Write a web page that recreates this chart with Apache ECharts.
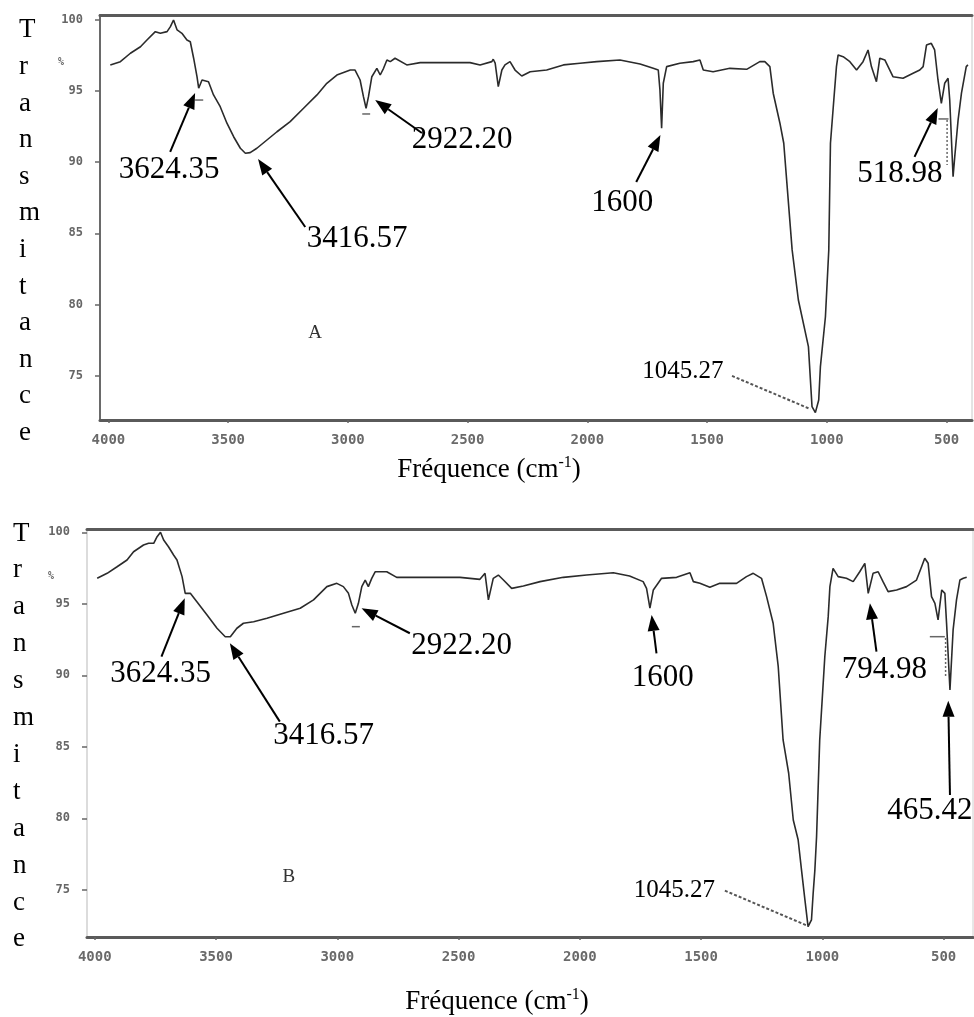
<!DOCTYPE html>
<html>
<head>
<meta charset="utf-8">
<title>Spectres IR A et B</title>
<script src="https://cdn.jsdelivr.net/npm/echarts@6/dist/echarts.min.js"></script>
<style>
  html, body { margin: 0; padding: 0; background: #fff; }
  #main { width: 974px; height: 1017px; }
</style>
</head>
<body>
<div id="main"></div>
<script>
// spectre A : [nombre d'onde cm-1, transmittance %]
const spectrumA = [
  [3992,96.84],[3950,97.07],[3908,97.66],[3866,98.12],[3839,98.59],[3804,99.18],[3783,99.06],[3755,99.18],
  [3741,99.53],[3728,100.0],[3713,99.30],[3693,99.06],[3672,98.59],[3658,98.47],[3644,97.31],[3630,96.01],
  [3623,95.20],[3609,95.78],[3582,95.66],[3561,94.73],[3533,93.90],[3505,92.74],[3477,91.79],[3449,90.98],
  [3428,90.63],[3408,90.67],[3380,90.98],[3338,91.56],[3296,92.14],[3241,92.85],[3185,93.79],[3129,94.73],
  [3088,95.55],[3046,96.13],[2990,96.48],[2970,96.48],[2949,95.78],[2935,94.61],[2924,93.79],[2914,94.61],
  [2900,96.01],[2879,96.60],[2865,96.13],[2851,96.60],[2837,97.19],[2823,97.07],[2803,97.31],[2754,96.84],
  [2698,97.00],[2490,97.00],[2448,96.84],[2399,97.07],[2393,97.24],[2385,96.96],[2372,95.31],[2357,96.48],
  [2344,96.84],[2323,97.07],[2302,96.48],[2274,96.06],[2239,96.36],[2170,96.48],[2100,96.84],[2031,96.96],
  [1961,97.07],[1864,97.19],[1780,96.91],[1725,96.60],[1704,96.48],[1697,95.08],[1690,92.38],[1683,95.55],
  [1669,96.72],[1614,96.96],[1558,97.07],[1530,97.19],[1516,96.48],[1475,96.36],[1405,96.60],[1335,96.53],
  [1280,97.07],[1259,97.07],[1238,96.72],[1224,94.85],[1196,92.74],[1180,91.33],[1145,83.83],[1119,80.31],
  [1077,77.03],[1062,72.81],[1048,72.39],[1034,73.28],[1027,75.62],[1006,79.13],[992,83.83],[985,91.33],
  [971,94.37],[960,96.72],[953,97.54],[932,97.42],[904,97.07],[876,96.48],[849,97.07],[828,97.89],
  [814,96.72],[793,95.66],[779,97.31],[758,97.19],[724,96.01],[682,95.90],[640,96.25],[612,96.48],
  [598,96.72],[584,98.24],[564,98.36],[550,97.89],[536,95.78],[522,94.14],[508,95.55],[494,95.90],
  [487,94.37],[473,88.98],[466,90.39],[452,92.97],[438,94.85],[418,96.72],[411,96.84]
];

// spectre B
const spectrumB = [
  [3990,96.78],[3949,97.13],[3908,97.59],[3867,98.06],[3840,98.64],[3799,99.11],[3778,99.23],[3757,99.23],
  [3743,99.69],[3729,100.0],[3716,99.46],[3696,98.99],[3675,98.41],[3661,98.06],[3640,96.90],[3627,95.73],
  [3606,95.73],[3579,95.15],[3537,94.22],[3496,93.29],[3462,92.70],[3441,92.70],[3414,93.29],[3387,93.64],
  [3345,93.75],[3290,93.99],[3222,94.34],[3153,94.69],[3098,95.27],[3043,96.20],[3002,96.43],[2975,96.20],
  [2954,95.73],[2940,94.92],[2926,94.34],[2913,95.03],[2899,96.20],[2885,96.66],[2872,96.20],[2858,96.78],
  [2844,97.24],[2796,97.24],[2755,96.85],[2604,96.85],[2494,96.85],[2412,96.71],[2391,97.13],[2377,95.27],
  [2357,96.78],[2336,97.01],[2315,96.66],[2281,96.08],[2233,96.24],[2164,96.55],[2068,96.85],[1972,97.01],
  [1862,97.17],[1795,96.94],[1739,96.55],[1725,96.08],[1711,94.69],[1697,95.97],[1663,96.78],[1601,96.85],
  [1546,97.17],[1532,96.55],[1505,96.43],[1464,96.15],[1423,96.43],[1354,96.43],[1313,96.90],[1285,97.13],
  [1251,96.78],[1230,95.50],[1203,93.64],[1182,90.60],[1162,85.48],[1139,83.15],[1120,79.88],[1100,78.50],
  [1086,76.38],[1072,74.29],[1059,72.42],[1045,72.89],[1038,74.76],[1031,76.38],[1024,78.71],[1011,85.48],
  [990,91.30],[976,94.10],[969,96.20],[956,97.48],[935,96.90],[901,96.78],[873,96.55],[846,97.24],
  [825,97.83],[811,95.73],[791,97.13],[770,97.24],[750,96.55],[729,95.85],[694,95.97],[653,96.20],
  [612,96.66],[591,97.59],[578,98.18],[564,97.83],[550,95.50],[536,95.03],[523,93.87],[508,95.97],
  [495,95.73],[488,93.64],[474,88.97],[461,93.17],[447,95.27],[433,96.66],[419,96.78],[405,96.85]
];

const xTicks = [4000, 3500, 3000, 2500, 2000, 1500, 1000, 500];
const yTicks = [75, 80, 85, 90, 95, 100];

// fleches : [texte, x texte, y texte, x depart, y depart, x pointe, y pointe]
const arrowsA = [
  ['3624.35', 3746, 89.49, 3742, 90.72, 3638, 94.87],
  ['3416.57', 2961, 84.60, 3178, 85.44, 3375, 90.23],
  ['2922.20', 2523, 91.56, 2691, 92.05, 2886, 94.37],
  ['1600', 1854, 87.13, 1796, 88.61, 1695, 91.91],
  ['518.98', 695, 89.17, 634, 90.37, 537, 93.81]
];
const arrowsB = [
  ['3624.35', 3728, 90.09, 3725, 91.30, 3629, 95.38],
  ['3416.57', 3056, 85.76, 3237, 86.76, 3443, 92.24],
  ['2922.20', 2487, 92.05, 2701, 92.94, 2900, 94.69],
  ['1600', 1658, 89.81, 1684, 91.54, 1704, 94.22],
  ['794.98', 744, 90.37, 777, 91.65, 804, 95.03],
  ['465.42', 557, 80.51, 474, 81.63, 481, 88.22]
];
// trait gris vers le minimum (texte aligne a droite)
const leadersA = [['1045.27', 1432, 75.25, 1396, 74.97, 1069, 72.64]];
const leadersB = [['1045.27', 1443, 74.99, 1402, 74.94, 1059, 72.47]];
// petits reperes de pics : [x1, y1, x2, y2, pointille]
const marksA = [[3638,94.37,3604,94.37,0],[2940,93.39,2907,93.39,0],[534,93.04,492,93.04,0],[498,92.97,498,89.80,1]];
const marksB = [[2940,93.40,2907,93.40,0],[557,92.70,495,92.70,0],[492,92.61,492,89.88,1]];
const panelLabels = [['A', 3137, 77.99], ['B', 3200, 75.89]];

const serif = '"Liberation Serif", "Times New Roman", serif';
const tickFont = '"DejaVu Sans Mono", monospace';

const grids = [
  { left: 100, top: 15, width: 872, height: 405, show: true, borderColor: '#c8c8c8', borderWidth: 1 },
  { left: 87, top: 529, width: 886, height: 408, show: true, borderColor: '#d0d0d0', borderWidth: 1 }
];
const xRange = [[394, 4035], [379, 4032]];
const yRange = [[71.87, 100.35], [71.70, 100.23]];
const leftAxisColor = ['#6a6a6a', '#dcdcdc'];

const plain = function (v) { return String(v); };

const xAxes = [];
const yAxes = [];
[0, 1].forEach(function (g) {
  xAxes.push({
    type: 'value', gridIndex: g, inverse: true, min: xRange[g][0], max: xRange[g][1],
    axisLine: { show: true, onZero: false, lineStyle: { color: '#5a5a5a', width: 3 } },
    axisTick: { show: true, customValues: xTicks, length: 3, lineStyle: { color: '#666', width: 1.5 } },
    axisLabel: { customValues: xTicks, formatter: plain, margin: 13, color: '#6a6a6a',
      fontFamily: tickFont, fontSize: 14, fontWeight: 'bold' },
    splitLine: { show: false }
  });
  xAxes.push({
    type: 'value', gridIndex: g, position: 'top', inverse: true, min: xRange[g][0], max: xRange[g][1],
    axisLine: { show: true, onZero: false, lineStyle: { color: '#5a5a5a', width: 3 } },
    axisTick: { show: false }, axisLabel: { show: false }, splitLine: { show: false }
  });
  yAxes.push({
    type: 'value', gridIndex: g, min: yRange[g][0], max: yRange[g][1],
    axisLine: { show: true, onZero: false, lineStyle: { color: leftAxisColor[g], width: 2 } },
    axisTick: { show: true, customValues: yTicks, length: 5, lineStyle: { color: '#666', width: 1.5 } },
    axisLabel: { customValues: yTicks, formatter: plain, margin: 17, color: '#666',
      fontFamily: tickFont, fontSize: 12, fontWeight: 'bold' },
    splitLine: { show: false }
  });
});

const chart = echarts.init(document.getElementById('main'));
chart.setOption({
  animation: false,
  backgroundColor: '#fff',
  grid: grids,
  xAxis: xAxes,
  yAxis: yAxes,
  series: [
    { type: 'line', xAxisIndex: 0, yAxisIndex: 0, data: spectrumA, symbol: 'none', silent: true,
      lineStyle: { color: '#2b2b2b', width: 1.6 } },
    { type: 'line', xAxisIndex: 2, yAxisIndex: 1, data: spectrumB, symbol: 'none', silent: true,
      lineStyle: { color: '#2b2b2b', width: 1.6 } }
  ]
});

function toPx(g, x, y) {
  return chart.convertToPixel({ seriesIndex: g }, [x, y]);
}

function textEl(p, txt, size, align) {
  return { type: 'text', z: 20, silent: true, x: p[0], y: p[1],
    style: { text: txt, font: size + 'px ' + serif, fill: '#000', align: align, verticalAlign: 'middle' } };
}

const graphics = [];

function addArrows(g, list) {
  list.forEach(function (a) {
    const t = toPx(g, a[1], a[2]), p0 = toPx(g, a[3], a[4]), p1 = toPx(g, a[5], a[6]);
    const dx = p1[0] - p0[0], dy = p1[1] - p0[1], len = Math.hypot(dx, dy);
    const ux = dx / len, uy = dy / len, L = 16, W = 6;
    const bx = p1[0] - ux * L, by = p1[1] - uy * L;
    graphics.push({ type: 'line', z: 20, silent: true, shape: { x1: p0[0], y1: p0[1], x2: bx, y2: by },
      style: { stroke: '#000', lineWidth: 2 } });
    graphics.push({ type: 'polygon', z: 20, silent: true,
      shape: { points: [p1, [bx - uy * W, by + ux * W], [bx + uy * W, by - ux * W]] },
      style: { fill: '#000' } });
    graphics.push(textEl(t, a[0], 31, 'center'));
  });
}

function addLeaders(g, list) {
  list.forEach(function (a) {
    const t = toPx(g, a[1], a[2]), p0 = toPx(g, a[3], a[4]), p1 = toPx(g, a[5], a[6]);
    graphics.push({ type: 'line', z: 20, silent: true, shape: { x1: p0[0], y1: p0[1], x2: p1[0], y2: p1[1] },
      style: { stroke: '#555', lineWidth: 2, lineDash: [3, 2] } });
    graphics.push(textEl(t, a[0], 25, 'right'));
  });
}

function addMarks(g, list) {
  list.forEach(function (m) {
    const p0 = toPx(g, m[0], m[1]), p1 = toPx(g, m[2], m[3]);
    graphics.push({ type: 'line', z: 15, silent: true, shape: { x1: p0[0], y1: p0[1], x2: p1[0], y2: p1[1] },
      style: { stroke: '#666', lineWidth: 1.5, lineDash: m[4] ? [2, 2] : null } });
  });
}

addArrows(0, arrowsA);
addArrows(1, arrowsB);
addLeaders(0, leadersA);
addLeaders(1, leadersB);
addMarks(0, marksA);
addMarks(1, marksB);

panelLabels.forEach(function (l, g) {
  const p = toPx(g, l[1], l[2]);
  graphics.push({ type: 'text', z: 20, silent: true, x: p[0], y: p[1],
    style: { text: l[0], font: '19px ' + serif, fill: '#333', align: 'center', verticalAlign: 'middle' } });
});

// titres des axes
const vertical = 'Transmitance'.split('').join('\n');
graphics.push({ type: 'text', silent: true, x: 19, y: 12,
  style: { text: vertical, font: '27px ' + serif, lineHeight: 36.6, fill: '#000', align: 'left', verticalAlign: 'top' } });
graphics.push({ type: 'text', silent: true, x: 13, y: 515,
  style: { text: vertical, font: '27px ' + serif, lineHeight: 36.9, fill: '#000', align: 'left', verticalAlign: 'top' } });

[[489, 470], [497, 1002]].forEach(function (p) {
  graphics.push({ type: 'text', silent: true, x: p[0], y: p[1],
    style: {
      text: '{a|Fréquence (cm}{s|-1}{a|)}',
      align: 'center', verticalAlign: 'middle',
      rich: {
        a: { fontSize: 27, fontFamily: serif, fill: '#000', lineHeight: 30 },
        s: { fontSize: 16, fontFamily: serif, fill: '#000', lineHeight: 16, verticalAlign: 'top' }
      }
    } });
});

[[61, 62], [51, 576]].forEach(function (p) {
  graphics.push({ type: 'text', silent: true, x: p[0], y: p[1],
    style: { text: '%', font: 'bold 10px ' + tickFont, fill: '#666', align: 'center', verticalAlign: 'middle' } });
});

chart.setOption({ graphic: { elements: graphics } });
</script>
</body>
</html>
